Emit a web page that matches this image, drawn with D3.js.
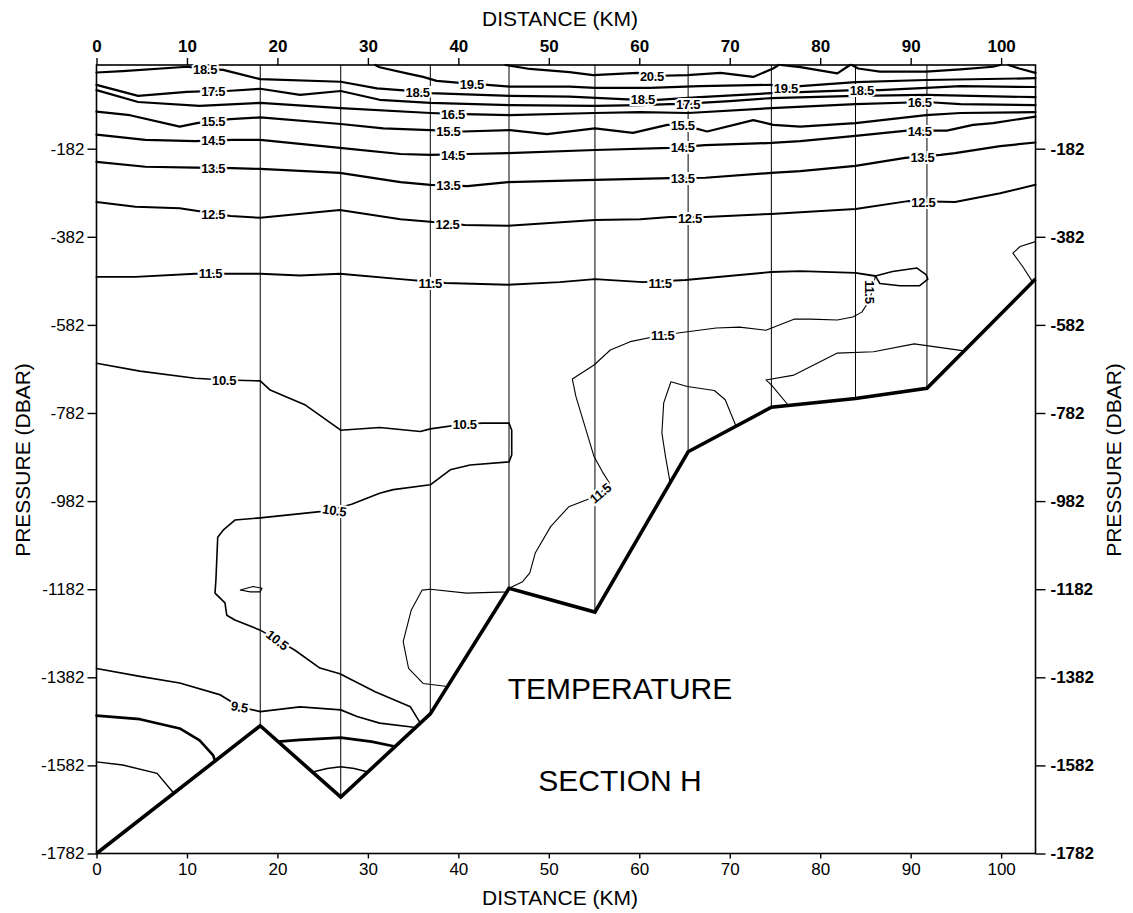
<!DOCTYPE html>
<html><head><meta charset="utf-8">
<script src="https://cdn.jsdelivr.net/npm/d3@7"></script>
<style>body{margin:0;background:#fff}svg{display:block}</style>
</head><body>
<svg id="c" width="1133" height="913"></svg>
<script>
// ---- data (distance km, pressure dbar) ----
const xTicks=[0,10,20,30,40,50,60,70,80,90,100];
const yTicks=[-182,-382,-582,-782,-982,-1182,-1382,-1582,-1782];
const stations=[0,18.1,27.0,36.9,45.6,55.1,65.4,74.6,83.9,91.8,103.8];
const bottomDepth=[-1782,-1492,-1654,-1465,-1180,-1234,-870,-769,-749,-726,-478];

const t205a=[[45.2,8],[47.9,-1],[52.3,-8],[54.9,-15],[59.8,-10],[61.4,-17],[65.3,-15],[69.0,-10],[72.6,-19],[74.8,0],[75.4,8]];
const t205b=[[75.6,8],[77.8,3],[81.9,-11],[83.0,4],[83.3,8]];
const t205c=[[83.5,8],[84.2,0],[86.6,-7],[91.7,-7],[95.5,-2],[99.1,4],[99.9,8]];
const t205d=[[100.8,8],[102,0],[103.8,-10]];
const t195=[[30.8,8],[31.3,3],[34.3,-11],[36.1,-19],[37.6,-28],[41.5,-35],[43.2,-37],[45.7,-41],[52.3,-41],[55.1,-44],[61.2,-44],[66.7,-40],[74.6,-37],[76.2,-44],[77.8,-40],[83.9,-31],[91.7,-26],[103.8,-22]];
const t185=[[0,-9],[2.9,-6],[10.0,4],[12.0,-1],[14.0,-3],[18.1,-24],[27.0,-30],[31.0,-45],[34.3,-50],[35.5,-53],[36.9,-56],[45.7,-62],[52.3,-64],[58.7,-70],[60.4,-71],[62.0,-71],[66.7,-65],[74.6,-56],[83.9,-49],[86.6,-49],[91.7,-44],[95.5,-40],[103.8,-42]];
const t175=[[0,-37],[4.6,-62],[10.0,-53],[12.9,-51],[14.4,-51],[18.1,-46],[22.5,-60],[27.0,-51],[31.3,-71],[36.9,-78],[45.7,-83],[55.1,-85],[60.1,-83],[63.4,-81],[65.4,-81],[66.7,-78],[70.0,-74],[74.6,-67],[83.9,-62],[91.7,-60],[103.8,-65]];
const t165=[[0,-49],[4.6,-76],[11.4,-85],[18.1,-78],[27.0,-90],[36.9,-101],[39.4,-103],[45.7,-106],[55.1,-101],[60.1,-99],[65.4,-101],[74.6,-90],[83.9,-81],[91.7,-76],[95.5,-81],[103.8,-83]];
const t155=[[0,-98],[3.7,-106],[9.2,-132],[11.1,-124],[12.9,-119],[14.8,-115],[18.1,-111],[27.0,-126],[31.7,-136],[36.9,-140],[40.5,-143],[45.7,-140],[49.8,-149],[55.1,-136],[59.3,-146],[63.1,-128],[64.8,-128],[67.5,-143],[72.6,-117],[74.8,-128],[77.8,-132],[83.9,-124],[91.7,-106],[95.5,-101],[103.8,-99]];
const t145=[[0,-150],[5.4,-162],[10.9,-165],[15.0,-162],[18.1,-162],[26.9,-180],[33.6,-194],[36.9,-196],[41.0,-194],[45.5,-192],[55.1,-185],[63.4,-180],[67.3,-174],[74.6,-169],[77.8,-165],[83.9,-153],[89.6,-141],[94.0,-141],[96.9,-128],[99.1,-124],[103.8,-109]];
const t135=[[0,-212],[5.4,-223],[10.9,-225],[15.0,-226],[18.1,-228],[26.9,-237],[33.6,-258],[36.9,-264],[41.0,-267],[45.5,-258],[55.1,-253],[63.4,-249],[67.3,-248],[74.6,-237],[77.8,-233],[83.9,-221],[89.4,-203],[93.3,-196],[94.9,-192],[99.9,-176],[103.8,-168]];
const t125=[[0,-303],[4.3,-314],[9.2,-317],[14.8,-335],[18.1,-339],[26.9,-321],[33.6,-342],[36.9,-348],[40.7,-355],[45.5,-357],[55.1,-344],[60.1,-342],[63.4,-337],[67.3,-337],[74.6,-330],[77.8,-326],[83.9,-319],[89.7,-301],[94.9,-303],[99.9,-283],[103.8,-264]];
const t115=[[0,-473],[4.3,-473],[10.9,-466],[14.8,-466],[18.1,-466],[22.5,-470],[26.9,-466],[33.6,-478],[38.6,-487],[45.5,-491],[51.2,-485],[55.1,-478],[60.4,-485],[65.1,-480],[74.6,-462],[77.8,-460],[83.9,-464],[86.1,-471]];
const lens115=[[86.1,-471],[88.0,-461],[90.7,-453],[91.7,-468],[91.9,-478],[91.0,-493],[88.8,-493],[86.6,-488],[86.1,-471]];
const desc115=[[86.1,-471],[85.5,-525],[84.6,-553],[83.6,-564],[81.9,-571],[78.9,-569],[77.1,-569],[74.0,-594],[71.1,-587],[68.5,-589],[62.6,-605],[59.0,-620],[56.8,-639],[55.0,-673],[52.6,-705],[53.0,-745],[54.0,-813],[55.0,-881],[56.0,-918],[56.7,-941],[55.7,-964],[54.2,-979],[52.2,-995],[50.2,-1040],[48.5,-1100],[47.9,-1145],[47.1,-1165],[45.6,-1180]];
const edge115=[[103.8,-393],[102.1,-404],[101.3,-419],[102.4,-450],[103.4,-482]];
const mid115=[[76.5,-765],[74.6,-718],[74.0,-707],[77.1,-696],[81.9,-646],[85.9,-643],[90.4,-625],[95.9,-641]];
const dome115=[[63.4,-940],[63.3,-927],[62.9,-881],[62.5,-827],[62.7,-759],[63.5,-711],[65.3,-722],[68.3,-731],[69.5,-752],[70.7,-812]];
const c105=[[0,-669],[4.8,-687],[10.9,-703],[14.2,-707],[18.1,-709],[19.2,-730],[21.4,-749],[23.1,-764],[27.0,-821],[31.3,-815],[35.8,-824],[36.9,-818],[40.7,-807],[42.7,-805],[45.6,-805],[45.9,-821],[45.9,-877],[45.6,-893],[41.3,-900],[39.1,-911],[36.9,-945],[32.8,-956],[31.3,-964],[28.2,-989],[26.3,-1000],[24.7,-1006],[18.1,-1020],[15.3,-1025],[14.0,-1048],[13.4,-1064],[13.2,-1161],[13.1,-1191],[14.2,-1213],[14.4,-1241],[15.3,-1252],[18.1,-1275],[20.0,-1297],[21.9,-1320],[24.7,-1361],[26.9,-1374],[30.8,-1415],[34.7,-1449],[35.8,-1486]];
const lens105=[[15.9,-1184],[17.3,-1176],[18.3,-1180],[18.1,-1188],[17.0,-1188],[15.9,-1184]];
const loop100=[[38.8,-1403],[36.1,-1396],[34.5,-1362],[33.9,-1301],[34.8,-1229],[36.0,-1184],[36.9,-1182],[40.9,-1191],[45.4,-1188],[45.6,-1180]];
const c95=[[0,-1362],[4.8,-1380],[9.2,-1395],[13.7,-1422],[15.8,-1449],[18.1,-1460],[22.5,-1449],[27.0,-1456],[28.8,-1471],[31.3,-1486],[35.3,-1496]];
const c85=[[0,-1469],[4.8,-1477],[9.2,-1498],[11.4,-1525],[12.9,-1559],[13.1,-1572]];
const c75=[[0,-1574],[2.9,-1581],[6.7,-1600],[8.5,-1644]];
const v85=[[20.1,-1528],[22.5,-1524],[27.0,-1519],[30.4,-1528],[33.0,-1539]];
const v75=[[23.9,-1597],[25.5,-1589],[27.0,-1585],[28.5,-1589],[30.0,-1597]];

// contour labels: [text, km, dbar, rotation]
const labels=[
 ["18.5",12.0,-1,0],["17.5",12.9,-51,0],["15.5",12.9,-119,0],["14.5",12.9,-162,0],["13.5",12.9,-226,0],["12.5",12.9,-330,0],["11.5",12.6,-466,0],
 ["19.5",41.5,-35,0],["18.5",35.5,-53,0],["16.5",39.4,-103,0],["15.5",38.9,-143,0],["14.5",39.4,-196,0],["13.5",38.9,-264,0],["12.5",38.8,-353,0],["11.5",36.9,-487,0],
 ["20.5",61.4,-17,0],["18.5",60.4,-71,0],["17.5",65.4,-81,0],["15.5",64.8,-128,0],["14.5",64.8,-178,0],["13.5",64.8,-249,0],["12.5",65.6,-339,0],["11.5",62.3,-487,0],
 ["19.5",76.2,-44,0],["18.5",84.6,-49,0],["16.5",91.0,-76,0],["14.5",91.0,-142,0],["13.5",91.3,-201,0],["12.5",91.4,-303,0],
 ["11.5",85.5,-507,90],["11.5",62.6,-605,0],["11.5",55.7,-964,-40],
 ["10.5",14.1,-707,0],["10.5",40.7,-807,0],["10.5",26.3,-1003,8],["10.5",20.0,-1297,38],["9.5",15.8,-1449,10]
];

// ---- drawing ----
const svg=d3.select("#c");
const x=d3.scaleLinear().domain([0,103.8]).range([96.5,1035.5]);
const y=d3.scaleLinear().domain([8,-1782]).range([65,853.5]);
const line=d3.line().x(d=>x(d[0])).y(d=>y(d[1]));

const contours=[
 [t205a,2.2],[t205b,2.2],[t205c,2.2],[t205d,2.2],[t195,2.2],[t185,2.2],[t175,2.2],[t165,2.2],[t155,2.2],[t145,2.2],[t135,2.2],[t125,2],[t115,1.9],
 [lens115,1.5],[desc115,1.1],[edge115,1.1],[mid115,1.1],[dome115,1.1],
 [c105,1.6],[lens105,1.1],[loop100,1.1],[c95,1.7],[c85,2.6],[c75,1.4],[v85,2.6],[v75,1.4]
];

// stations
stations.forEach((s,i)=>{
  svg.append("line").attr("x1",x(s)).attr("x2",x(s)).attr("y1",y(8)).attr("y2",y(bottomDepth[i]))
    .attr("stroke","#000").attr("stroke-width",1);
});

contours.forEach(([pts,w])=>{
  svg.append("path").attr("d",line(pts)).attr("fill","none").attr("stroke","#000")
    .attr("stroke-width",w).attr("stroke-linejoin","round").attr("stroke-linecap","round");
});

// bottom profile
svg.append("path").attr("d",line(stations.map((s,i)=>[s,bottomDepth[i]])))
  .attr("fill","none").attr("stroke","#000").attr("stroke-width",3.6).attr("stroke-linejoin","miter");

// frame
svg.append("rect").attr("x",x(0)).attr("y",y(8)).attr("width",x(103.8)-x(0)).attr("height",y(-1782)-y(8))
  .attr("fill","none").attr("stroke","#000").attr("stroke-width",1.6);

// contour labels
labels.forEach(([t,k,p,r])=>{
  svg.append("text").attr("transform",`translate(${x(k)},${y(p)}) rotate(${r})`)
    .attr("text-anchor","middle").attr("dy","0.36em")
    .style("font-family","'Liberation Sans Narrow','Liberation Sans',Arial,sans-serif").style("font-size","13px").style("font-weight","bold")
    .style("letter-spacing","-0.3px")
    .attr("fill","#000").attr("stroke","#fff").attr("stroke-width",4).attr("paint-order","stroke").text(t);
});

// axes
const font="'Liberation Sans',Arial,sans-serif";
function styleAxis(g,size,weight){
  g.select(".domain").remove();
  g.selectAll("line").attr("stroke","#000").attr("stroke-width",1.4);
  g.selectAll("text").style("font-family",font).style("font-size",size).style("font-weight",weight).attr("fill","#000");
}
svg.append("g").attr("transform",`translate(0,${y(8)})`)
  .call(d3.axisTop(x).tickValues(xTicks).tickSize(7).tickPadding(6).tickFormat(d3.format("d")))
  .call(g=>styleAxis(g,"17px","bold"));
svg.append("g").attr("transform",`translate(0,${y(-1782)})`)
  .call(d3.axisBottom(x).tickValues(xTicks).tickSize(5).tickPadding(4).tickFormat(d3.format("d")))
  .call(g=>styleAxis(g,"17px","normal"));
svg.append("g").attr("transform",`translate(${x(0)},0)`)
  .call(d3.axisLeft(y).tickValues(yTicks).tickSize(9).tickPadding(3).tickFormat(d=>d))
  .call(g=>styleAxis(g,"17px","normal"));
svg.append("g").attr("transform",`translate(${x(103.8)},0)`)
  .call(d3.axisRight(y).tickValues(yTicks).tickSize(10).tickPadding(5).tickFormat(d=>d))
  .call(g=>styleAxis(g,"17px","bold"));

// titles
function title(t,tx,ty,rot,size){
  svg.append("text").attr("transform",`translate(${tx},${ty}) rotate(${rot})`).attr("text-anchor","middle")
    .attr("dy","0.36em").style("font-family",font).style("font-size",size).attr("fill","#000").text(t);
}
title("DISTANCE (KM)",560,18,0,"21px");
title("DISTANCE (KM)",560,897,0,"21px");
title("PRESSURE (DBAR)",22,460,-90,"21px");
title("PRESSURE (DBAR)",1113,460,-90,"21px");
title("TEMPERATURE",620,688,0,"30px");
title("SECTION H",620,780,0,"30px");
</script>
</body></html>
